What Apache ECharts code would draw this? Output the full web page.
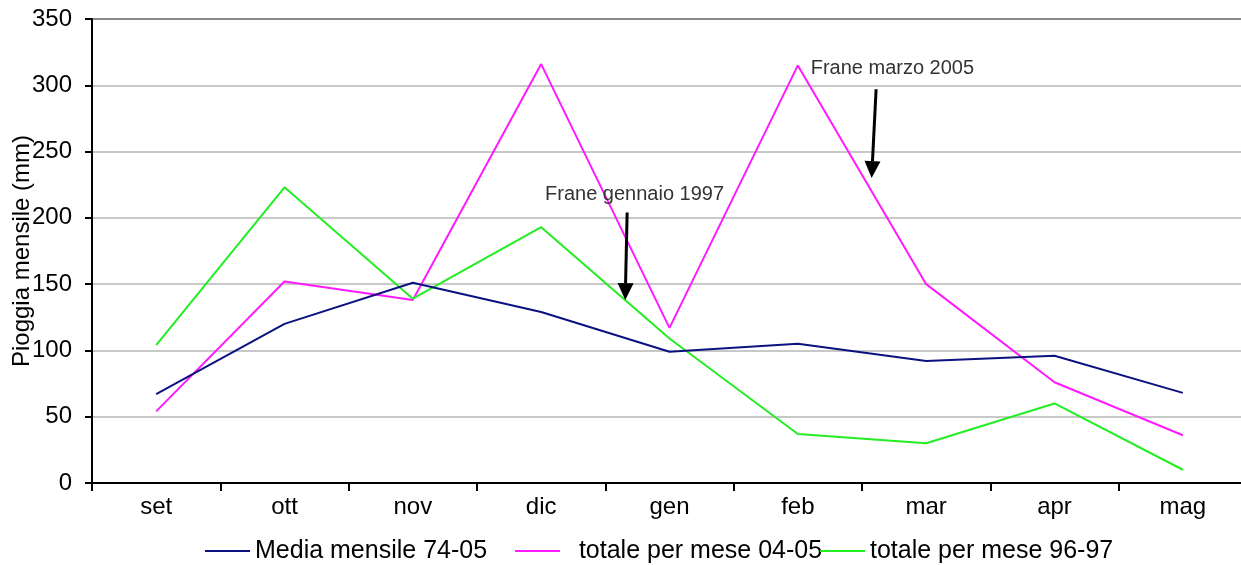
<!DOCTYPE html>
<html>
<head>
<meta charset="utf-8">
<script src="https://cdn.jsdelivr.net/npm/echarts@6/dist/echarts.min.js"></script>
<style>
html,body{margin:0;padding:0;background:#fff;}
#chart{width:1241px;height:565px;}
</style>
</head>
<body>
<div id="chart"></div>
<script>
// ---- data ----
const months = ['set', 'ott', 'nov', 'dic', 'gen', 'feb', 'mar', 'apr', 'mag'];
const mediaMensile = [67, 120, 151, 129, 99, 105, 92, 96, 68];
const totale0405 = [54, 152, 138, 316, 117, 315, 150, 76, 36];
const totale9697 = [104, 223, 139, 193, 109, 37, 30, 60, 10];
const seriesNames = ['Media mensile 74-05', 'totale per mese 04-05', 'totale per mese 96-97'];
const yTicks = { min: 0, max: 350, interval: 50 };
// annotations: x as fractional category index, y in mm
const annotations = [
  { text: 'Frane gennaio 1997', textX: 3.03, textY: 218, arrowX1: 3.67, arrowY1: 204, arrowX2: 3.655, arrowY2: 138 },
  { text: 'Frane marzo 2005', textX: 5.10, textY: 313, arrowX1: 5.61, arrowY1: 297, arrowX2: 5.575, arrowY2: 230 }
];

const font = 'Liberation Sans, Arial, Helvetica, sans-serif';
const colors = ['#0b1280', '#ff1aff', '#22ee22'];

const chart = echarts.init(document.getElementById('chart'), null, { renderer: 'canvas' });

function legendFor(i, left, formatter) {
  return {
    data: [seriesNames[i]],
    left: left,
    top: 533,
    icon: 'rect',
    itemWidth: 45,
    itemHeight: 2,
    itemTextGap: 10,
    formatter: formatter || '{name}',
    textStyle: { fontFamily: font, fontSize: 25, color: '#000', lineHeight: 26 }
  };
}

const splitColors = [];
for (let v = yTicks.min; v <= yTicks.max; v += yTicks.interval) {
  splitColors.push(v === yTicks.max ? '#8a8a8a' : '#c8c8c8');
}

const option = {
  animation: false,
  backgroundColor: '#fff',
  color: colors,
  grid: { left: 92, top: 19, width: 1155, height: 464, containLabel: false, outerBoundsMode: 'none' },
  legend: [
    legendFor(0, 200),
    legendFor(1, 510, '  {name}'),
    legendFor(2, 815)
  ],
  xAxis: {
    type: 'category',
    data: months,
    boundaryGap: true,
    axisLine: { lineStyle: { color: '#000', width: 2 } },
    axisTick: { show: true, interval: 0, length: 8, lineStyle: { color: '#000', width: 2 } },
    axisLabel: { fontFamily: font, fontSize: 24, color: '#000', margin: 12, interval: 0 },
    splitLine: { show: false }
  },
  yAxis: {
    type: 'value',
    min: yTicks.min,
    max: yTicks.max,
    interval: yTicks.interval,
    name: 'Pioggia mensile (mm)',
    nameLocation: 'middle',
    nameGap: 58,
    nameMoveOverlap: false,
    nameTextStyle: { fontFamily: font, fontSize: 24, color: '#000' },
    axisLine: { show: true, lineStyle: { color: '#000', width: 2 } },
    axisTick: { show: true, inside: false, length: 7, lineStyle: { color: '#000', width: 2 } },
    axisLabel: { fontFamily: font, fontSize: 24, color: '#000', margin: 20 },
    splitLine: { show: true, lineStyle: { color: splitColors, width: 2 } }
  },
  series: [
    { name: seriesNames[0], type: 'line', data: mediaMensile, symbol: 'none', lineStyle: { width: 2, color: colors[0] }, z: 3 },
    { name: seriesNames[1], type: 'line', data: totale0405, symbol: 'none', lineStyle: { width: 2, color: colors[1] }, z: 2 },
    { name: seriesNames[2], type: 'line', data: totale9697, symbol: 'none', lineStyle: { width: 2, color: colors[2] }, z: 2 }
  ]
};

chart.setOption(option);

// convert a fractional category index + value into pixels, via the chart's own scales
function toPx(xi, yv) {
  const i0 = Math.floor(xi), i1 = Math.min(i0 + 1, months.length - 1);
  const f = xi - i0;
  const a = chart.convertToPixel({ gridIndex: 0 }, [i0, yv]);
  const b = chart.convertToPixel({ gridIndex: 0 }, [i1, yv]);
  return [a[0] + (b[0] - a[0]) * f, a[1]];
}

const graphics = [];
annotations.forEach(a => {
  const t = toPx(a.textX, a.textY);
  const p1 = toPx(a.arrowX1, a.arrowY1);
  const p2 = toPx(a.arrowX2, a.arrowY2);
  graphics.push({
    type: 'text', x: t[0], y: t[1], z: 10,
    style: { text: a.text, fontFamily: font, fontSize: 20, fill: '#333', verticalAlign: 'middle' }
  });
  const dx = p2[0] - p1[0], dy = p2[1] - p1[1];
  const len = Math.sqrt(dx * dx + dy * dy);
  const ux = dx / len, uy = dy / len;
  const headLen = 17, headW = 8;
  const bx = p2[0] - ux * headLen, by = p2[1] - uy * headLen;
  graphics.push({
    type: 'line', z: 10,
    shape: { x1: p1[0], y1: p1[1], x2: bx, y2: by },
    style: { stroke: '#000', lineWidth: 3 }
  });
  graphics.push({
    type: 'polygon', z: 10,
    shape: { points: [[p2[0], p2[1]], [bx - uy * headW, by + ux * headW], [bx + uy * headW, by - ux * headW]] },
    style: { fill: '#000' }
  });
});
chart.setOption({ graphic: graphics });
</script>
</body>
</html>
